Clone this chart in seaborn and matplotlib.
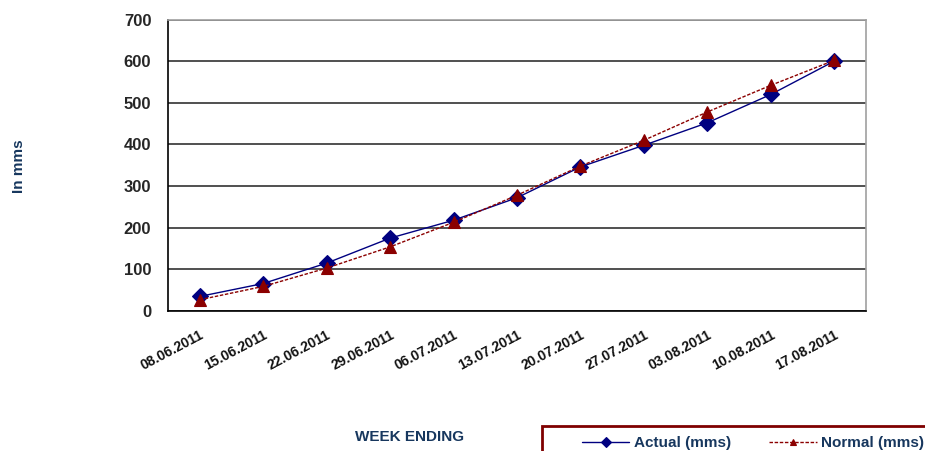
import pandas as pd
import matplotlib.pyplot as plt
import seaborn as sns
from matplotlib.ticker import FixedLocator
from matplotlib.patches import Rectangle

# Dados
semanas = ["08.06.2011", "15.06.2011", "22.06.2011", "29.06.2011", "06.07.2011",
           "13.07.2011", "20.07.2011", "27.07.2011", "03.08.2011", "10.08.2011",
           "17.08.2011"]
actual = [35, 66, 115, 175, 218, 272, 346, 398, 452, 520, 600]
normal = [27, 59, 103, 154, 213, 278, 348, 410, 478, 542, 602]

df = pd.DataFrame({
    "semana": semanas * 2,
    "mms": actual + normal,
    "serie": ["Actual (mms)"] * len(semanas) + ["Normal (mms)"] * len(semanas),
})

sns.set_style("white")
plt.rcParams["font.family"] = ["Liberation Sans", "DejaVu Sans"]
plt.rcParams["font.weight"] = "bold"

fig = plt.figure(figsize=(9.25, 4.51), dpi=100)
ax = fig.add_axes([168 / 925, 1 - 311 / 451, (866 - 168) / 925, (311 - 19.5) / 451])

cores = {"Actual (mms)": "#000080", "Normal (mms)": "#8B0000"}
sns.lineplot(data=df, x="semana", y="mms", hue="serie", style="serie",
             palette=cores, markers={"Actual (mms)": "D", "Normal (mms)": "^"},
             dashes={"Actual (mms)": "", "Normal (mms)": (2.5, 1.2)},
             markersize=8.5, linewidth=1, markeredgewidth=0.8, sort=False, ax=ax)
for linha in ax.lines:
    linha.set_markeredgecolor(linha.get_color())

ax.set_xlim(-0.5, len(semanas) - 0.5)
ax.set_ylim(0, 700)
ax.set_yticks(range(0, 701, 100))
ax.yaxis.grid(True, color="#202020", linewidth=1.1)
ax.set_axisbelow(True)

ax.set_xticks(range(len(semanas)))
ax.set_xticklabels(semanas, rotation=28, ha="right", rotation_mode="anchor",
                   fontsize=10, fontweight="bold", color="#111111")
ax.xaxis.set_minor_locator(FixedLocator([i - 0.5 for i in range(len(semanas) + 1)]))
ax.tick_params(axis="x", which="major", length=0, pad=12)
ax.tick_params(axis="x", which="minor", length=5, width=1, color="black", direction="out")
ax.tick_params(axis="y", length=6, width=1, color="black", direction="out",
               labelsize=12, pad=6)
for lbl in ax.get_yticklabels():
    lbl.set_fontweight("bold")

ax.spines["left"].set_color("black")
ax.spines["bottom"].set_color("black")
ax.spines["top"].set_color("#a0a0a0")
ax.spines["right"].set_color("#a0a0a0")
for s in ax.spines.values():
    s.set_linewidth(1.2)

ax.set_xlabel("")
ax.set_ylabel("")

handles, labels = ax.get_legend_handles_labels()
ax.get_legend().remove()

fig.text(19 / 925, 1 - 166 / 451, "In mms", rotation=90, ha="center", va="center",
         fontsize=11, fontweight="bold", color="#17375E")
fig.text(410 / 925, 1 - 437 / 451, "WEEK ENDING", ha="center", va="center",
         fontsize=11, fontweight="bold", color="#17375E")

# caixa da legenda (cortada na borda, como no original)
caixa = Rectangle((542 / 925, 1 - 470 / 451), 400 / 925, 44 / 451,
                  transform=fig.transFigure, fill=False, edgecolor="#7F0000",
                  linewidth=2, clip_on=False)
fig.patches.append(caixa)

for h in handles:
    h.set_markersize(5)
    h.set_markeredgecolor(h.get_color())
leg = fig.legend(handles, labels, loc="center left", bbox_to_anchor=(582 / 925, 1 - 443 / 451),
                 ncol=2, frameon=False, prop={"weight": "bold", "size": 11},
                 handlelength=3.1, handletextpad=0.3, columnspacing=2.5,
                 borderpad=0, borderaxespad=0)
for t in leg.get_texts():
    t.set_color("#17375E")

plt.savefig("out.png", dpi=100)
